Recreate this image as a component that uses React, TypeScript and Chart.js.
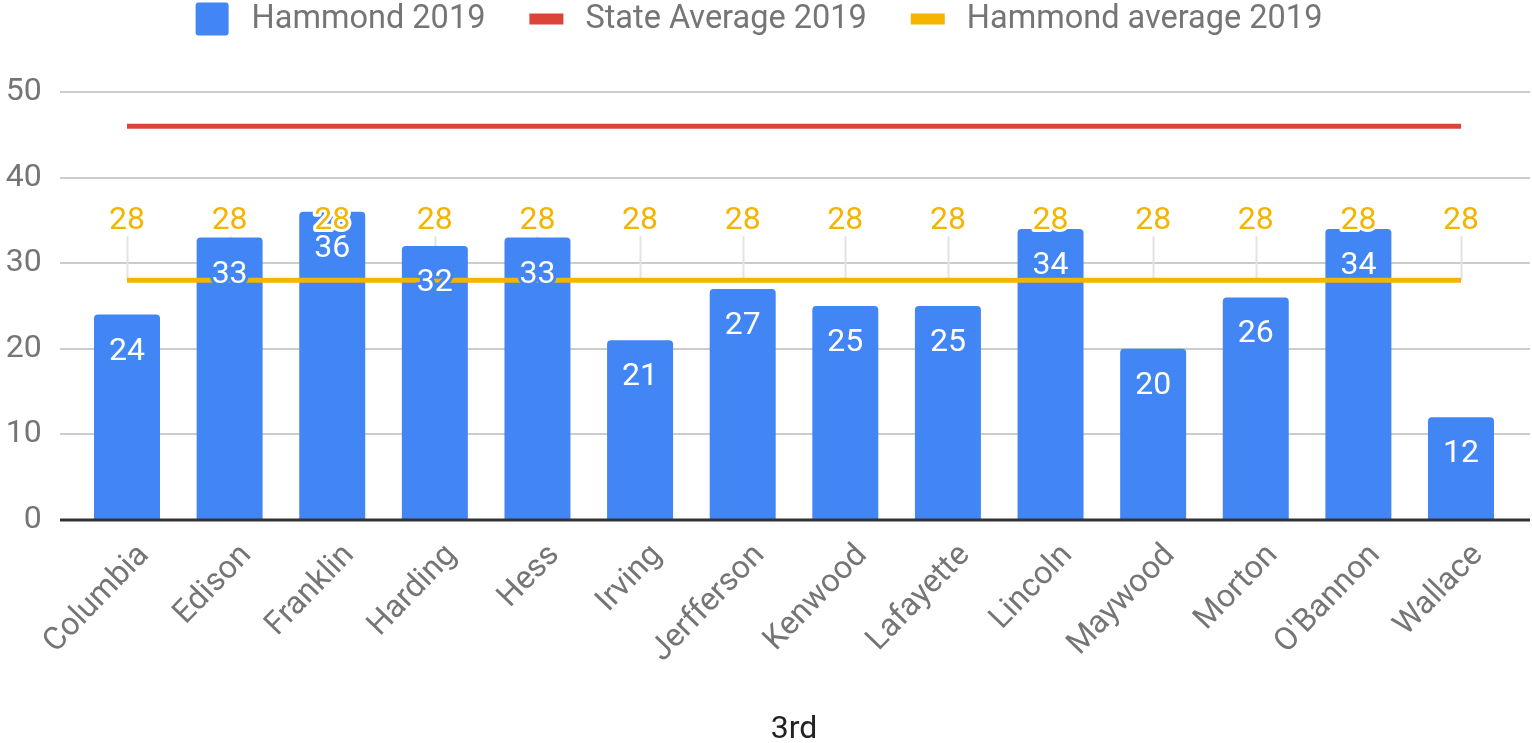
import React, { useEffect, useRef } from 'react';
import { Chart, registerables } from 'chart.js';

Chart.register(...registerables);

const schools = ['Columbia', 'Edison', 'Franklin', 'Harding', 'Hess', 'Irving', 'Jerfferson', 'Kenwood', 'Lafayette', 'Lincoln', 'Maywood', 'Morton', "O'Bannon", 'Wallace'];
const hammond2019 = [24, 33, 36, 32, 33, 21, 27, 25, 25, 34, 20, 26, 34, 12];
const stateAverage2019 = [46, 46, 46, 46, 46, 46, 46, 46, 46, 46, 46, 46, 46, 46];
const hammondAverage2019 = [28, 28, 28, 28, 28, 28, 28, 28, 28, 28, 28, 28, 28, 28];
const yTickValues = [0, 10, 20, 30, 40, 50];
const axisTitle = '3rd';

const BLUE = '#4285f4';
const RED = '#db4437';
const YELLOW = '#f4b400';
const FONT = 'Roboto';
const GRID_LEFT = 60;
const GRID_RIGHT = 1530;

const legendItems = [
  { label: 'Hammond 2019', color: BLUE, kind: 'box' },
  { label: 'State Average 2019', color: RED, kind: 'line' },
  { label: 'Hammond average 2019', color: YELLOW, kind: 'line' },
];

const decorPlugin = {
  id: 'decor',
  beforeDatasetsDraw(chart: any) {
    const { ctx } = chart;
    const y = chart.scales.y;
    ctx.save();
    ctx.strokeStyle = '#cccccc';
    ctx.lineWidth = 2;
    y.ticks.forEach((t: any) => {
      if (t.value === 0) return;
      const py = Math.round(y.getPixelForValue(t.value));
      ctx.beginPath();
      ctx.moveTo(GRID_LEFT, py);
      ctx.lineTo(GRID_RIGHT, py);
      ctx.stroke();
    });
    // annotation stems for the Hammond average labels
    const meta = chart.getDatasetMeta(2);
    ctx.strokeStyle = '#e3e3e3';
    ctx.lineWidth = 2;
    meta.data.forEach((el: any) => {
      const x = Math.round(el.x) + 0.5;
      ctx.beginPath();
      ctx.moveTo(x, el.y - 44);
      ctx.lineTo(x, el.y);
      ctx.stroke();
    });
    ctx.restore();
  },
  afterDatasetsDraw(chart: any) {
    const { ctx } = chart;
    const y = chart.scales.y;
    ctx.save();
    // baseline
    const by = y.getPixelForValue(0);
    ctx.strokeStyle = '#333333';
    ctx.lineWidth = 3;
    ctx.beginPath();
    ctx.moveTo(GRID_LEFT, by);
    ctx.lineTo(GRID_RIGHT, by);
    ctx.stroke();

    ctx.font = `32px ${FONT}`;
    ctx.textAlign = 'center';
    ctx.textBaseline = 'middle';
    ctx.lineJoin = 'round';
    // bar labels
    const barMeta = chart.getDatasetMeta(0);
    barMeta.data.forEach((el: any, i: number) => {
      const txt = String(chart.data.datasets[0].data[i]);
      const ty = el.y + 37;
      ctx.lineWidth = 6;
      ctx.strokeStyle = BLUE;
      ctx.strokeText(txt, el.x, ty);
      ctx.fillStyle = '#ffffff';
      ctx.fillText(txt, el.x, ty);
    });
    // hammond average labels
    const avgMeta = chart.getDatasetMeta(2);
    avgMeta.data.forEach((el: any, i: number) => {
      const txt = String(chart.data.datasets[2].data[i]);
      const ty = el.y - 59;
      ctx.lineWidth = 6;
      ctx.strokeStyle = '#ffffff';
      ctx.strokeText(txt, el.x, ty);
      ctx.fillStyle = YELLOW;
      ctx.fillText(txt, el.x, ty);
    });
    ctx.restore();
  },
  afterDraw(chart: any) {
    const { ctx } = chart;
    ctx.save();
    ctx.font = `32.5px ${FONT}`;
    ctx.textBaseline = 'middle';
    ctx.textAlign = 'left';
    const boxW = 33;
    const gapText = 23;
    const gapItem = 44;
    const widths = legendItems.map((it) => ctx.measureText(it.label).width);
    const total = widths.reduce((a, w) => a + boxW + gapText + w, 0) + gapItem * (legendItems.length - 1);
    let x = 759 - total / 2;
    const cy = 19;
    legendItems.forEach((it, i) => {
      ctx.fillStyle = it.color;
      if (it.kind === 'box') {
        ctx.beginPath();
        (ctx as any).roundRect(x, cy - 16.5, boxW, 33, 3);
        ctx.fill();
      } else {
        ctx.fillRect(x, cy - 5.5, boxW + 1, 11);
      }
      ctx.fillStyle = '#757575';
      ctx.fillText(it.label, x + boxW + gapText, cy + 1);
      x += boxW + gapText + widths[i] + gapItem;
    });
    ctx.restore();
  },
};

export default function App() {
  const canvasRef = useRef<HTMLCanvasElement | null>(null);

  useEffect(() => {
    if (!canvasRef.current) return;
    const chart = new Chart(canvasRef.current, {
      type: 'bar',
      data: {
        labels: schools,
        datasets: [
          {
            type: 'bar',
            label: 'Hammond 2019',
            data: hammond2019,
            backgroundColor: BLUE,
            borderRadius: { topLeft: 4, topRight: 4, bottomLeft: 0, bottomRight: 0 },
            borderSkipped: 'bottom',
            barPercentage: 0.643,
            categoryPercentage: 1,
            order: 3,
          },
          {
            type: 'line',
            label: 'State Average 2019',
            data: stateAverage2019,
            borderColor: RED,
            backgroundColor: RED,
            borderWidth: 5,
            pointRadius: 0,
            fill: false,
            order: 2,
          },
          {
            type: 'line',
            label: 'Hammond average 2019',
            data: hammondAverage2019,
            borderColor: YELLOW,
            backgroundColor: YELLOW,
            borderWidth: 5,
            pointRadius: 0,
            fill: false,
            order: 1,
          },
        ] as any,
      },
      options: {
        animation: false,
        responsive: true,
        maintainAspectRatio: false,
        events: [],
        layout: { padding: { top: 92, bottom: 0, left: 0, right: 19.7 } },
        plugins: {
          legend: { display: false },
          tooltip: { enabled: false },
          title: { display: false },
        },
        scales: {
          x: {
            offset: true,
            grid: { display: false, drawTicks: false },
            border: { display: false },
            ticks: {
              color: '#757575',
              font: { family: FONT, size: 32 },
              minRotation: 46,
              maxRotation: 46,
              padding: 17,
              labelOffset: 17,
              autoSkip: false,
            },
            title: {
              display: true,
              text: axisTitle,
              color: '#222222',
              font: { family: FONT, size: 32, lineHeight: 1 },
              padding: { top: 0, bottom: -3 },
            },
            afterFit(scale: any) {
              scale.height = 223;
            },
          },
          y: {
            min: 0,
            max: 50,
            afterBuildTicks(scale: any) {
              scale.ticks = yTickValues.map((v) => ({ value: v }));
            },
            grid: { display: false, drawTicks: false },
            border: { display: false },
            ticks: {
              color: '#757575',
              font: { family: FONT, size: 32 },
              padding: 34,
            },
            afterFit(scale: any) {
              scale.width = 75.7;
            },
          },
        },
      },
      plugins: [decorPlugin],
    });
    return () => chart.destroy();
  }, []);

  return (
    <div style={{ position: 'absolute', left: 0, top: 0, width: 1532, height: 743, background: '#fff' }}>
      <canvas ref={canvasRef} />
    </div>
  );
}
